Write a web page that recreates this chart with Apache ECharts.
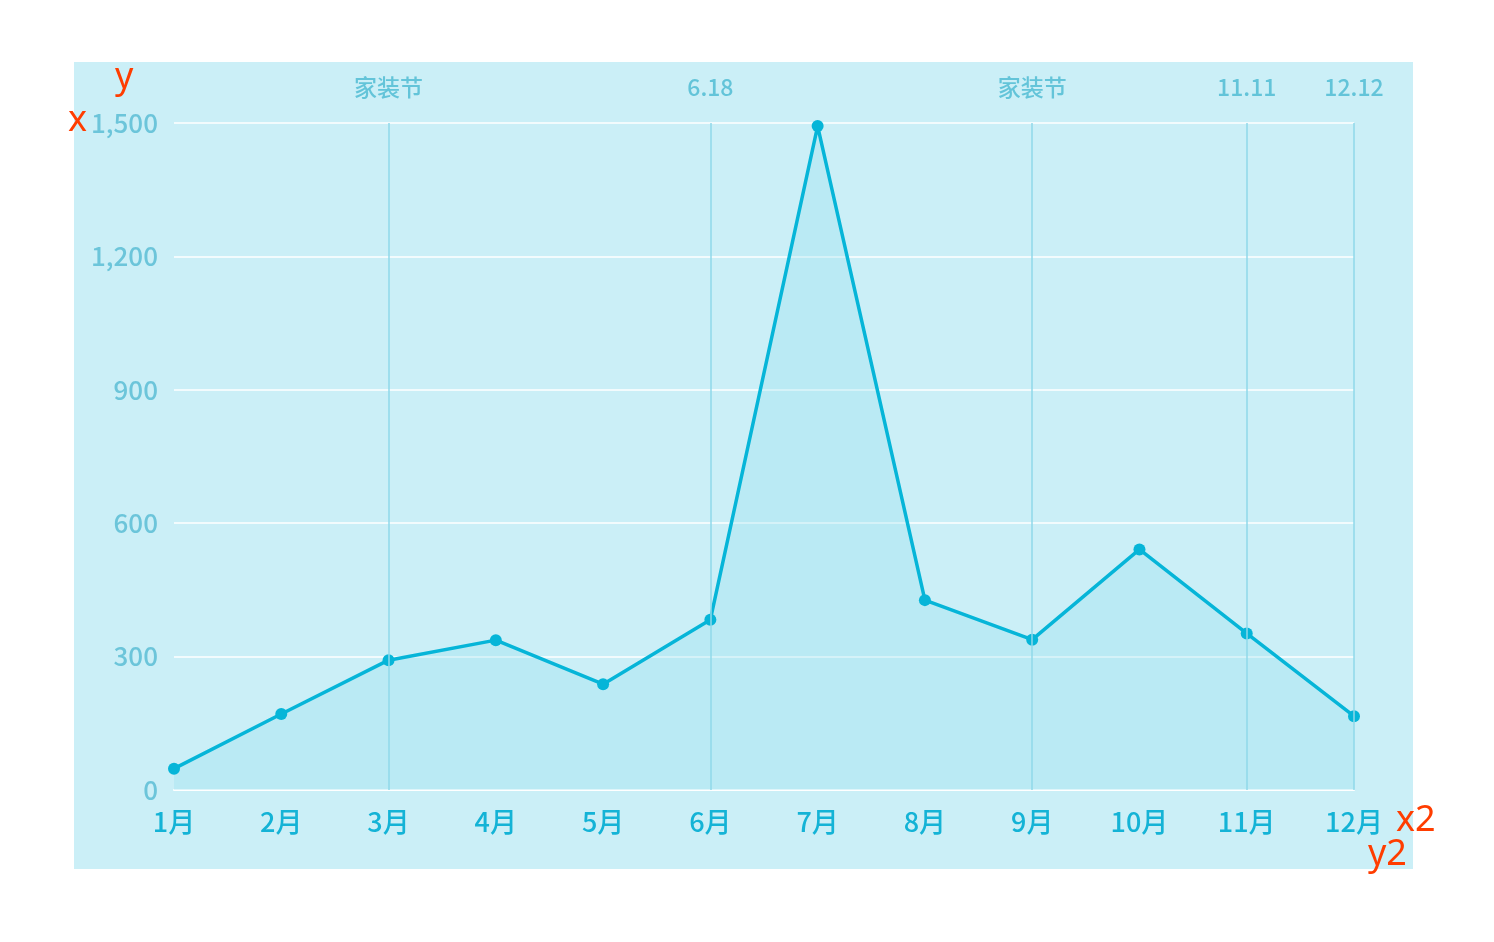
<!DOCTYPE html>
<html>
<head>
<meta charset="utf-8">
<script src="https://cdn.jsdelivr.net/npm/echarts@6/dist/echarts.min.js"></script>
<style>
html,body{margin:0;padding:0;background:#fff;}
#main{width:1494px;height:942px;}
</style>
</head>
<body>
<div id="main"></div>
<script>
var months = ['1月','2月','3月','4月','5月','6月','7月','8月','9月','10月','11月','12月'];
var sales = [48, 171, 292, 337, 238, 383, 1493, 427, 338, 541, 352, 166];
var yTicks = [0, 300, 600, 900, 1200, 1500];
// 节日标记
var festMonths = ['3月','6月','9月','11月','12月'];
var festNames = ['家装节','6.18','家装节','11.11','12.12'];

var myChart = echarts.init(document.getElementById('main'));

var marks = festMonths.map(function(m, i){
    return {xAxis: m, name: festNames[i]};
});

var red = '#ff3d00';
var option = {
    backgroundColor: '#fff',
    textStyle: {fontFamily: '"Noto Sans CJK SC", "Noto Sans", sans-serif'},
    graphic: [
        {type:'rect', z:-10, shape:{x:74, y:62, width:1339, height:807}, style:{fill:'#cbeff7'}},
        {type:'text', left:68, top:103, style:{text:'x', fill:red, fontSize:36, fontFamily:'Noto Sans'}},
        {type:'text', left:115, top:60, style:{text:'y', fill:red, fontSize:36, fontFamily:'Noto Sans'}},
        {type:'text', left:1396, top:803, style:{text:'x2', fill:red, fontSize:36, fontFamily:'Noto Sans'}},
        {type:'text', left:1368, top:837, style:{text:'y2', fill:red, fontSize:36, fontFamily:'Noto Sans'}}
    ],
    grid: {left:174, right:140, top:123, bottom:152},
    xAxis: {
        type: 'category',
        boundaryGap: false,
        data: months,
        axisLine: {lineStyle: {color:'#ffffff', width:2}},
        axisTick: {show:false},
        axisLabel: {color:'#14b3d6', fontSize:27, fontWeight:500, margin:18}
    },
    yAxis: {
        type: 'value',
        min: yTicks[0],
        max: yTicks[yTicks.length-1],
        interval: 300,
        axisLine: {show:false},
        axisTick: {show:false},
        splitLine: {lineStyle: {color:'#ffffff', width:1.5}},
        axisLabel: {color:'#6cc5da', fontSize:26, fontWeight:500, margin:16}
    },
    series: [{
        name: '销量',
        type: 'line',
        data: sales,
        symbol: 'circle',
        symbolSize: 12,
        itemStyle: {color:'#06b5d8'},
        lineStyle: {color:'#06b5d8', width:3.5},
        areaStyle: {color:'rgba(150,222,238,0.45)'},
        markLine: {
            silent: true,
            symbol: 'none',
            animation: false,
            lineStyle: {color:'#8fd9ea', type:'solid', width:1.5},
            label: {
                show: true,
                position: 'end',
                distance: 24,
                formatter: '{b}',
                color: '#63c4d9',
                fontSize: 23,
                fontWeight: 500
            },
            data: marks
        }
    }]
};
myChart.setOption(option);
</script>
</body>
</html>
